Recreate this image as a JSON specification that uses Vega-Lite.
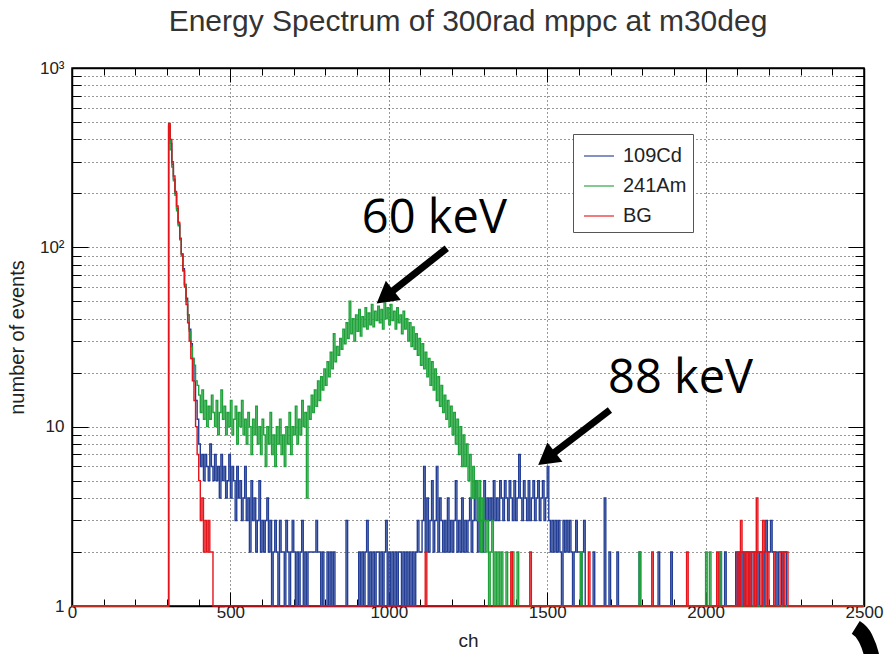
{
"$schema": "https://vega.github.io/schema/vega-lite/v6.json",
"width": 792, "height": 538,
"autosize": {"type": "none"},
"padding": {"left": 72, "top": 68, "right": 30, "bottom": 48},
"background": "white",
"config": {"view": {"stroke": "black", "strokeWidth": 1.5}, "font": "Liberation Sans"},
"title": {"text": "Energy Spectrum of 300rad mppc at m30deg", "fontSize": 30, "fontWeight": "normal", "color": "#333", "font": "Liberation Sans", "offset": 22, "anchor": "middle", "frame": "group"},
"datasets": {
"spec": [
{"ch":0,"109Cd":1,"241Am":1,"BG":1},
{"ch":305,"109Cd":470,"241Am":480,"BG":490},
{"ch":310,"109Cd":380,"241Am":350,"BG":400},
{"ch":315,"109Cd":290,"241Am":280,"BG":300},
{"ch":320,"109Cd":240,"241Am":235,"BG":250},
{"ch":325,"109Cd":200,"241Am":195,"BG":205},
{"ch":330,"109Cd":165,"241Am":160,"BG":170},
{"ch":335,"109Cd":135,"241Am":132,"BG":138},
{"ch":340,"109Cd":112,"241Am":110,"BG":112},
{"ch":345,"109Cd":92,"241Am":90,"BG":92},
{"ch":350,"109Cd":76,"241Am":74,"BG":74},
{"ch":355,"109Cd":62,"241Am":62,"BG":60},
{"ch":360,"109Cd":52,"241Am":50,"BG":48},
{"ch":365,"109Cd":42,"241Am":42,"BG":38},
{"ch":370,"109Cd":35,"241Am":34,"BG":30},
{"ch":375,"109Cd":29,"241Am":28,"BG":24},
{"ch":380,"109Cd":24,"241Am":24,"BG":18},
{"ch":385,"109Cd":18,"241Am":22,"BG":14},
{"ch":390,"109Cd":14,"241Am":18,"BG":10},
{"ch":395,"109Cd":11,"241Am":17,"BG":7},
{"ch":400,"109Cd":8,"241Am":15,"BG":5},
{"ch":405,"109Cd":6,"241Am":12,"BG":3},
{"ch":410,"109Cd":7,"241Am":16,"BG":4},
{"ch":415,"109Cd":5,"241Am":11,"BG":2},
{"ch":420,"109Cd":7,"241Am":14,"BG":3},
{"ch":425,"109Cd":6,"241Am":10,"BG":2},
{"ch":430,"109Cd":5,"241Am":13,"BG":3},
{"ch":435,"109Cd":8,"241Am":11,"BG":2},
{"ch":440,"109Cd":6,"241Am":15,"BG":2},
{"ch":445,"109Cd":5,"241Am":12,"BG":1},
{"ch":450,"109Cd":7,"241Am":10,"BG":1},
{"ch":455,"109Cd":5,"241Am":14,"BG":1},
{"ch":460,"109Cd":6,"241Am":9,"BG":1},
{"ch":465,"109Cd":4,"241Am":12,"BG":1},
{"ch":470,"109Cd":7,"241Am":16,"BG":1},
{"ch":475,"109Cd":5,"241Am":11,"BG":1},
{"ch":480,"109Cd":6,"241Am":13,"BG":1},
{"ch":485,"109Cd":4,"241Am":9,"BG":1},
{"ch":490,"109Cd":5,"241Am":12,"BG":1},
{"ch":495,"109Cd":7,"241Am":10,"BG":1},
{"ch":500,"109Cd":4,"241Am":14,"BG":1},
{"ch":505,"109Cd":6,"241Am":9,"BG":1},
{"ch":510,"109Cd":5,"241Am":11,"BG":1},
{"ch":515,"109Cd":3,"241Am":13,"BG":1},
{"ch":520,"109Cd":6,"241Am":8,"BG":1},
{"ch":525,"109Cd":4,"241Am":12,"BG":1},
{"ch":530,"109Cd":5,"241Am":10,"BG":1},
{"ch":535,"109Cd":3,"241Am":14,"BG":1},
{"ch":540,"109Cd":4,"241Am":9,"BG":1},
{"ch":545,"109Cd":6,"241Am":11,"BG":1},
{"ch":550,"109Cd":3,"241Am":8,"BG":1},
{"ch":555,"109Cd":4,"241Am":12,"BG":1},
{"ch":560,"109Cd":2,"241Am":10,"BG":1},
{"ch":565,"109Cd":5,"241Am":7,"BG":1},
{"ch":570,"109Cd":3,"241Am":11,"BG":1},
{"ch":575,"109Cd":4,"241Am":9,"BG":1},
{"ch":580,"109Cd":2,"241Am":13,"BG":1},
{"ch":585,"109Cd":3,"241Am":8,"BG":1},
{"ch":590,"109Cd":5,"241Am":10,"BG":1},
{"ch":595,"109Cd":2,"241Am":7,"BG":1},
{"ch":600,"109Cd":3,"241Am":11,"BG":1},
{"ch":605,"109Cd":2,"241Am":9,"BG":1},
{"ch":610,"109Cd":3,"241Am":6,"BG":1},
{"ch":615,"109Cd":4,"241Am":10,"BG":1},
{"ch":620,"109Cd":2,"241Am":8,"BG":1},
{"ch":625,"109Cd":3,"241Am":12,"BG":1},
{"ch":630,"109Cd":1,"241Am":7,"BG":1},
{"ch":635,"109Cd":2,"241Am":9,"BG":1},
{"ch":640,"109Cd":3,"241Am":6,"BG":1},
{"ch":645,"109Cd":2,"241Am":10,"BG":1},
{"ch":650,"109Cd":1,"241Am":8,"BG":1},
{"ch":655,"109Cd":3,"241Am":11,"BG":1},
{"ch":660,"109Cd":2,"241Am":7,"BG":1},
{"ch":665,"109Cd":2,"241Am":9,"BG":1},
{"ch":670,"109Cd":1,"241Am":6,"BG":1},
{"ch":675,"109Cd":3,"241Am":10,"BG":1},
{"ch":680,"109Cd":2,"241Am":8,"BG":1},
{"ch":685,"109Cd":1,"241Am":12,"BG":1},
{"ch":690,"109Cd":2,"241Am":7,"BG":1},
{"ch":695,"109Cd":3,"241Am":10,"BG":1},
{"ch":700,"109Cd":2,"241Am":9,"BG":1},
{"ch":705,"109Cd":1,"241Am":13,"BG":1},
{"ch":710,"109Cd":2,"241Am":8,"BG":1},
{"ch":715,"109Cd":1,"241Am":11,"BG":1},
{"ch":720,"109Cd":2,"241Am":9,"BG":1},
{"ch":725,"109Cd":3,"241Am":14,"BG":1},
{"ch":730,"109Cd":1,"241Am":10,"BG":1},
{"ch":735,"109Cd":2,"241Am":12,"BG":1},
{"ch":740,"109Cd":1,"241Am":4,"BG":1},
{"ch":745,"109Cd":2,"241Am":13,"BG":1},
{"ch":750,"109Cd":2,"241Am":11,"BG":1},
{"ch":755,"109Cd":2,"241Am":15,"BG":1},
{"ch":760,"109Cd":2,"241Am":12,"BG":1},
{"ch":765,"109Cd":2,"241Am":16,"BG":1},
{"ch":770,"109Cd":3,"241Am":13,"BG":1},
{"ch":775,"109Cd":2,"241Am":18,"BG":1},
{"ch":780,"109Cd":2,"241Am":14,"BG":1},
{"ch":785,"109Cd":1,"241Am":19,"BG":1},
{"ch":790,"109Cd":2,"241Am":16,"BG":1},
{"ch":795,"109Cd":1,"241Am":21,"BG":1},
{"ch":800,"109Cd":1,"241Am":17,"BG":1},
{"ch":805,"109Cd":2,"241Am":23,"BG":1},
{"ch":810,"109Cd":1,"241Am":19,"BG":1},
{"ch":815,"109Cd":2,"241Am":26,"BG":1},
{"ch":820,"109Cd":1,"241Am":21,"BG":1},
{"ch":825,"109Cd":2,"241Am":33,"BG":1},
{"ch":830,"109Cd":1,"241Am":23,"BG":1},
{"ch":835,"109Cd":1,"241Am":28,"BG":1},
{"ch":840,"109Cd":1,"241Am":25,"BG":1},
{"ch":845,"109Cd":1,"241Am":31,"BG":1},
{"ch":850,"109Cd":1,"241Am":27,"BG":1},
{"ch":855,"109Cd":1,"241Am":35,"BG":1},
{"ch":860,"109Cd":1,"241Am":29,"BG":1},
{"ch":865,"109Cd":3,"241Am":38,"BG":1},
{"ch":870,"109Cd":1,"241Am":31,"BG":1},
{"ch":875,"109Cd":1,"241Am":50,"BG":1},
{"ch":880,"109Cd":1,"241Am":33,"BG":1},
{"ch":885,"109Cd":1,"241Am":40,"BG":1},
{"ch":890,"109Cd":1,"241Am":30,"BG":1},
{"ch":895,"109Cd":1,"241Am":42,"BG":1},
{"ch":900,"109Cd":1,"241Am":34,"BG":1},
{"ch":905,"109Cd":2,"241Am":45,"BG":1},
{"ch":910,"109Cd":1,"241Am":32,"BG":1},
{"ch":915,"109Cd":2,"241Am":41,"BG":1},
{"ch":920,"109Cd":1,"241Am":36,"BG":1},
{"ch":925,"109Cd":2,"241Am":46,"BG":1},
{"ch":930,"109Cd":3,"241Am":35,"BG":1},
{"ch":935,"109Cd":1,"241Am":43,"BG":1},
{"ch":940,"109Cd":2,"241Am":37,"BG":1},
{"ch":945,"109Cd":1,"241Am":48,"BG":1},
{"ch":950,"109Cd":2,"241Am":36,"BG":1},
{"ch":955,"109Cd":1,"241Am":44,"BG":1},
{"ch":960,"109Cd":2,"241Am":39,"BG":1},
{"ch":965,"109Cd":2,"241Am":47,"BG":1},
{"ch":970,"109Cd":1,"241Am":38,"BG":1},
{"ch":975,"109Cd":2,"241Am":45,"BG":1},
{"ch":980,"109Cd":1,"241Am":35,"BG":1},
{"ch":985,"109Cd":2,"241Am":49,"BG":1},
{"ch":990,"109Cd":3,"241Am":40,"BG":1},
{"ch":995,"109Cd":1,"241Am":46,"BG":1},
{"ch":1000,"109Cd":2,"241Am":37,"BG":1},
{"ch":1005,"109Cd":1,"241Am":48,"BG":1},
{"ch":1010,"109Cd":2,"241Am":39,"BG":1},
{"ch":1015,"109Cd":1,"241Am":44,"BG":1},
{"ch":1020,"109Cd":2,"241Am":35,"BG":1},
{"ch":1025,"109Cd":1,"241Am":46,"BG":1},
{"ch":1030,"109Cd":2,"241Am":38,"BG":1},
{"ch":1035,"109Cd":2,"241Am":42,"BG":1},
{"ch":1040,"109Cd":1,"241Am":33,"BG":1},
{"ch":1045,"109Cd":2,"241Am":44,"BG":1},
{"ch":1050,"109Cd":1,"241Am":35,"BG":1},
{"ch":1055,"109Cd":2,"241Am":40,"BG":1},
{"ch":1060,"109Cd":1,"241Am":30,"BG":1},
{"ch":1065,"109Cd":2,"241Am":38,"BG":1},
{"ch":1070,"109Cd":1,"241Am":28,"BG":1},
{"ch":1075,"109Cd":2,"241Am":36,"BG":1},
{"ch":1080,"109Cd":1,"241Am":27,"BG":1},
{"ch":1085,"109Cd":2,"241Am":33,"BG":1},
{"ch":1090,"109Cd":3,"241Am":25,"BG":1},
{"ch":1095,"109Cd":2,"241Am":31,"BG":1},
{"ch":1100,"109Cd":2,"241Am":22,"BG":1},
{"ch":1105,"109Cd":3,"241Am":29,"BG":1},
{"ch":1110,"109Cd":6,"241Am":21,"BG":1},
{"ch":1115,"109Cd":2,"241Am":26,"BG":2},
{"ch":1120,"109Cd":4,"241Am":19,"BG":1},
{"ch":1125,"109Cd":2,"241Am":24,"BG":1},
{"ch":1130,"109Cd":3,"241Am":17,"BG":1},
{"ch":1135,"109Cd":5,"241Am":23,"BG":1},
{"ch":1140,"109Cd":2,"241Am":16,"BG":1},
{"ch":1145,"109Cd":3,"241Am":21,"BG":1},
{"ch":1150,"109Cd":6,"241Am":14,"BG":1},
{"ch":1155,"109Cd":2,"241Am":19,"BG":1},
{"ch":1160,"109Cd":4,"241Am":13,"BG":1},
{"ch":1165,"109Cd":3,"241Am":17,"BG":1},
{"ch":1170,"109Cd":2,"241Am":12,"BG":1},
{"ch":1175,"109Cd":3,"241Am":15,"BG":1},
{"ch":1180,"109Cd":2,"241Am":11,"BG":1},
{"ch":1185,"109Cd":4,"241Am":14,"BG":1},
{"ch":1190,"109Cd":2,"241Am":10,"BG":1},
{"ch":1195,"109Cd":3,"241Am":13,"BG":1},
{"ch":1200,"109Cd":2,"241Am":9,"BG":1},
{"ch":1205,"109Cd":3,"241Am":12,"BG":1},
{"ch":1210,"109Cd":5,"241Am":8,"BG":1},
{"ch":1215,"109Cd":2,"241Am":11,"BG":1},
{"ch":1220,"109Cd":3,"241Am":7,"BG":1},
{"ch":1225,"109Cd":2,"241Am":10,"BG":1},
{"ch":1230,"109Cd":4,"241Am":6,"BG":1},
{"ch":1235,"109Cd":2,"241Am":9,"BG":1},
{"ch":1240,"109Cd":3,"241Am":6,"BG":1},
{"ch":1245,"109Cd":2,"241Am":8,"BG":1},
{"ch":1250,"109Cd":3,"241Am":5,"BG":1},
{"ch":1255,"109Cd":4,"241Am":7,"BG":1},
{"ch":1260,"109Cd":2,"241Am":4,"BG":1},
{"ch":1265,"109Cd":3,"241Am":6,"BG":1},
{"ch":1270,"109Cd":5,"241Am":4,"BG":1},
{"ch":1275,"109Cd":3,"241Am":5,"BG":1},
{"ch":1280,"109Cd":2,"241Am":3,"BG":1},
{"ch":1285,"109Cd":4,"241Am":5,"BG":1},
{"ch":1290,"109Cd":3,"241Am":2,"BG":1},
{"ch":1295,"109Cd":2,"241Am":4,"BG":1},
{"ch":1300,"109Cd":5,"241Am":3,"BG":1},
{"ch":1305,"109Cd":3,"241Am":2,"BG":1},
{"ch":1310,"109Cd":4,"241Am":3,"BG":1},
{"ch":1315,"109Cd":3,"241Am":1,"BG":1},
{"ch":1320,"109Cd":4,"241Am":2,"BG":1},
{"ch":1325,"109Cd":3,"241Am":3,"BG":1},
{"ch":1330,"109Cd":5,"241Am":1,"BG":1},
{"ch":1335,"109Cd":3,"241Am":2,"BG":1},
{"ch":1340,"109Cd":4,"241Am":1,"BG":1},
{"ch":1345,"109Cd":3,"241Am":2,"BG":1},
{"ch":1350,"109Cd":5,"241Am":1,"BG":1},
{"ch":1355,"109Cd":4,"241Am":2,"BG":1},
{"ch":1360,"109Cd":3,"241Am":1,"BG":1},
{"ch":1365,"109Cd":5,"241Am":1,"BG":1},
{"ch":1370,"109Cd":4,"241Am":2,"BG":1},
{"ch":1375,"109Cd":3,"241Am":1,"BG":1},
{"ch":1380,"109Cd":5,"241Am":1,"BG":1},
{"ch":1385,"109Cd":4,"241Am":1,"BG":2},
{"ch":1390,"109Cd":3,"241Am":2,"BG":1},
{"ch":1395,"109Cd":5,"241Am":1,"BG":1},
{"ch":1400,"109Cd":3,"241Am":1,"BG":1},
{"ch":1405,"109Cd":4,"241Am":2,"BG":1},
{"ch":1410,"109Cd":7,"241Am":1,"BG":1},
{"ch":1415,"109Cd":4,"241Am":1,"BG":1},
{"ch":1420,"109Cd":3,"241Am":1,"BG":1},
{"ch":1425,"109Cd":5,"241Am":1,"BG":1},
{"ch":1430,"109Cd":4,"241Am":1,"BG":1},
{"ch":1435,"109Cd":3,"241Am":1,"BG":1},
{"ch":1440,"109Cd":5,"241Am":1,"BG":1},
{"ch":1445,"109Cd":3,"241Am":1,"BG":2},
{"ch":1450,"109Cd":4,"241Am":1,"BG":1},
{"ch":1455,"109Cd":5,"241Am":1,"BG":1},
{"ch":1460,"109Cd":3,"241Am":1,"BG":1},
{"ch":1465,"109Cd":4,"241Am":1,"BG":1},
{"ch":1470,"109Cd":5,"241Am":1,"BG":1},
{"ch":1475,"109Cd":3,"241Am":1,"BG":1},
{"ch":1480,"109Cd":4,"241Am":1,"BG":1},
{"ch":1485,"109Cd":5,"241Am":1,"BG":1},
{"ch":1490,"109Cd":3,"241Am":1,"BG":1},
{"ch":1495,"109Cd":4,"241Am":1,"BG":1},
{"ch":1500,"109Cd":6,"241Am":1,"BG":1},
{"ch":1505,"109Cd":3,"241Am":1,"BG":1},
{"ch":1510,"109Cd":2,"241Am":1,"BG":1},
{"ch":1515,"109Cd":3,"241Am":1,"BG":1},
{"ch":1520,"109Cd":2,"241Am":1,"BG":1},
{"ch":1525,"109Cd":3,"241Am":1,"BG":1},
{"ch":1530,"109Cd":2,"241Am":1,"BG":1},
{"ch":1535,"109Cd":3,"241Am":1,"BG":1},
{"ch":1540,"109Cd":2,"241Am":1,"BG":1},
{"ch":1545,"109Cd":1,"241Am":1,"BG":1},
{"ch":1550,"109Cd":3,"241Am":1,"BG":1},
{"ch":1555,"109Cd":2,"241Am":1,"BG":1},
{"ch":1560,"109Cd":3,"241Am":1,"BG":1},
{"ch":1565,"109Cd":2,"241Am":1,"BG":1},
{"ch":1570,"109Cd":3,"241Am":1,"BG":1},
{"ch":1575,"109Cd":2,"241Am":1,"BG":1},
{"ch":1580,"109Cd":1,"241Am":1,"BG":1},
{"ch":1585,"109Cd":2,"241Am":1,"BG":1},
{"ch":1590,"109Cd":3,"241Am":1,"BG":1},
{"ch":1595,"109Cd":2,"241Am":1,"BG":1},
{"ch":1600,"109Cd":2,"241Am":1,"BG":1},
{"ch":1605,"109Cd":1,"241Am":2,"BG":1},
{"ch":1610,"109Cd":2,"241Am":1,"BG":1},
{"ch":1615,"109Cd":3,"241Am":1,"BG":1},
{"ch":1620,"109Cd":1,"241Am":1,"BG":1},
{"ch":1630,"109Cd":1,"241Am":1,"BG":2},
{"ch":1635,"109Cd":1,"241Am":1,"BG":1},
{"ch":1645,"109Cd":2,"241Am":1,"BG":1},
{"ch":1650,"109Cd":1,"241Am":1,"BG":1},
{"ch":1680,"109Cd":4,"241Am":1,"BG":1},
{"ch":1685,"109Cd":1,"241Am":1,"BG":1},
{"ch":1695,"109Cd":2,"241Am":1,"BG":1},
{"ch":1700,"109Cd":1,"241Am":1,"BG":1},
{"ch":1720,"109Cd":2,"241Am":1,"BG":1},
{"ch":1725,"109Cd":1,"241Am":1,"BG":1},
{"ch":1790,"109Cd":2,"241Am":2,"BG":1},
{"ch":1795,"109Cd":1,"241Am":1,"BG":1},
{"ch":1830,"109Cd":1,"241Am":1,"BG":2},
{"ch":1835,"109Cd":1,"241Am":1,"BG":1},
{"ch":1850,"109Cd":2,"241Am":1,"BG":1},
{"ch":1855,"109Cd":1,"241Am":1,"BG":1},
{"ch":1890,"109Cd":2,"241Am":1,"BG":1},
{"ch":1895,"109Cd":1,"241Am":1,"BG":1},
{"ch":1940,"109Cd":1,"241Am":1,"BG":2},
{"ch":1945,"109Cd":1,"241Am":1,"BG":1},
{"ch":2000,"109Cd":1,"241Am":2,"BG":1},
{"ch":2005,"109Cd":1,"241Am":1,"BG":1},
{"ch":2012,"109Cd":1,"241Am":2,"BG":1},
{"ch":2017,"109Cd":1,"241Am":1,"BG":1},
{"ch":2035,"109Cd":1,"241Am":1,"BG":2},
{"ch":2040,"109Cd":1,"241Am":1,"BG":1},
{"ch":2045,"109Cd":2,"241Am":2,"BG":1},
{"ch":2050,"109Cd":1,"241Am":1,"BG":1},
{"ch":2060,"109Cd":2,"241Am":1,"BG":1},
{"ch":2065,"109Cd":1,"241Am":1,"BG":1},
{"ch":2095,"109Cd":2,"241Am":1,"BG":1},
{"ch":2100,"109Cd":1,"241Am":1,"BG":2},
{"ch":2105,"109Cd":2,"241Am":1,"BG":1},
{"ch":2110,"109Cd":1,"241Am":1,"BG":3},
{"ch":2115,"109Cd":2,"241Am":1,"BG":2},
{"ch":2120,"109Cd":1,"241Am":1,"BG":1},
{"ch":2125,"109Cd":2,"241Am":1,"BG":2},
{"ch":2130,"109Cd":2,"241Am":1,"BG":1},
{"ch":2135,"109Cd":1,"241Am":1,"BG":2},
{"ch":2140,"109Cd":2,"241Am":1,"BG":1},
{"ch":2145,"109Cd":2,"241Am":1,"BG":2},
{"ch":2150,"109Cd":1,"241Am":1,"BG":2},
{"ch":2155,"109Cd":2,"241Am":1,"BG":1},
{"ch":2160,"109Cd":2,"241Am":1,"BG":4},
{"ch":2165,"109Cd":1,"241Am":1,"BG":2},
{"ch":2170,"109Cd":2,"241Am":1,"BG":2},
{"ch":2175,"109Cd":2,"241Am":1,"BG":1},
{"ch":2180,"109Cd":1,"241Am":1,"BG":3},
{"ch":2185,"109Cd":2,"241Am":1,"BG":2},
{"ch":2190,"109Cd":3,"241Am":1,"BG":1},
{"ch":2195,"109Cd":2,"241Am":1,"BG":2},
{"ch":2200,"109Cd":2,"241Am":1,"BG":1},
{"ch":2205,"109Cd":3,"241Am":1,"BG":1},
{"ch":2210,"109Cd":2,"241Am":1,"BG":1},
{"ch":2215,"109Cd":2,"241Am":1,"BG":2},
{"ch":2220,"109Cd":2,"241Am":1,"BG":1},
{"ch":2225,"109Cd":1,"241Am":1,"BG":1},
{"ch":2230,"109Cd":2,"241Am":1,"BG":1},
{"ch":2235,"109Cd":2,"241Am":1,"BG":2},
{"ch":2240,"109Cd":1,"241Am":1,"BG":2},
{"ch":2245,"109Cd":2,"241Am":1,"BG":1},
{"ch":2250,"109Cd":2,"241Am":1,"BG":2},
{"ch":2255,"109Cd":1,"241Am":1,"BG":2},
{"ch":2260,"109Cd":1,"241Am":1,"BG":1},
{"ch":2500,"109Cd":1,"241Am":1,"BG":1}
],
"notes": [{"t":"60 keV","x":915,"y":120},{"t":"88 keV","x":1692,"y":15.4}],
"arrows": [{"x":1183,"y":98.8,"x2":988,"y2":52.9},{"x":1698,"y":12.4,"x2":1498,"y2":6.64}],
"heads": [{"x":988,"y":52.9},{"x":1498,"y":6.64}],
"blob": [{"x":2474,"y":0.76},{"x":2504,"y":0.664},{"x":2523,"y":0.54},{"x":2530,"y":0.47}]
},
"resolve": {"axis": {"x": "independent", "y": "independent"}},
"layer": [
{
"data": {"name": "spec"},
"transform": [{"fold": ["109Cd","241Am","BG"], "as": ["s","n"]}, {"filter": "datum.s === '109Cd'"}],
"mark": {"type": "line", "interpolate": "step-after", "strokeWidth": 1.4},
"encoding": {
"x": {"field": "ch", "type": "quantitative", "scale": {"domain": [0,2500], "nice": false, "zero": false},
 "axis": {"orient": "bottom", "title": "ch", "titleFontSize": 19, "titleFontWeight": "normal", "titleColor": "#222", "titlePadding": 4,
  "values": [0,100,200,300,400,500,600,700,800,900,1000,1100,1200,1300,1400,1500,1600,1700,1800,1900,2000,2100,2200,2300,2400,2500],
  "labelExpr": "datum.value % 500 === 0 ? format(datum.value, 'd') : ''", "labelFontSize": 17, "labelColor": "#222", "labelPadding": 12, "labelOverlap": false, "labelFlush": false,
  "tickSize": {"condition": {"test": "datum.value % 500 === 0", "value": -14}, "value": -7}, "tickColor": "black",
  "grid": true, "gridDash": [1,3], "gridColor": "black", "gridWidth": 1,
  "gridOpacity": {"condition": {"test": "datum.value % 500 === 0 && datum.value > 0 && datum.value < 2500", "value": 0.8}, "value": 0},
  "domainColor": "black", "domainWidth": 1.5}},
"y": {"field": "n", "type": "quantitative", "scale": {"type": "log", "domain": [1,1000], "nice": false},
 "axis": {"orient": "left", "title": "number of events", "titleFontSize": 20, "titleFontWeight": "normal", "titleColor": "#222", "titlePadding": 12,
  "values": [1,2,3,4,5,6,7,8,9,10,20,30,40,50,60,70,80,90,100,200,300,400,500,600,700,800,900,1000],
  "labelExpr": "datum.value == 1000 ? '10³' : datum.value == 100 ? '10²' : datum.value == 10 ? '10' : datum.value == 1 ? '1' : ''", "labelFontSize": 17, "labelColor": "#222", "labelPadding": 24, "labelOverlap": false, "labelFlush": false,
  "tickSize": {"condition": {"test": "datum.value == 1 || datum.value == 10 || datum.value == 100 || datum.value == 1000", "value": -16}, "value": -9}, "tickColor": "black",
  "grid": true, "gridDash": [1,3], "gridColor": "black", "gridWidth": 1, "gridOpacity": 0.8,
  "domainColor": "black", "domainWidth": 1.5}},
"color": {"field": "s", "type": "nominal", "scale": {"domain": ["109Cd","241Am","BG"], "range": ["#233e94","#1fa23a","#e3141b"]},
 "legend": {"orient": "none", "legendX": 501, "legendY": 66, "title": null, "symbolType": "stroke", "symbolStrokeWidth": 1.5, "symbolSize": 900, "symbolOpacity": 0.75, "symbolOffset": 4,
  "labelFontSize": 20, "labelFont": "Liberation Sans", "labelColor": "#222", "labelOffset": 8, "strokeColor": "#555", "fillColor": "white", "padding": 6, "rowPadding": 4}}
}
},
{
"data": {"name": "spec"},
"transform": [{"fold": ["109Cd","241Am","BG"], "as": ["s","n"]}, {"filter": "datum.s === '241Am'"}],
"mark": {"type": "line", "interpolate": "step-after", "strokeWidth": 1.4},
"encoding": {
"x": {"field": "ch", "type": "quantitative", "scale": {"domain": [0,2500], "nice": false, "zero": false}, "axis": null},
"y": {"field": "n", "type": "quantitative", "scale": {"type": "log", "domain": [1,1000], "nice": false}, "axis": null},
"color": {"field": "s", "type": "nominal"}
}
},
{
"data": {"name": "spec"},
"transform": [{"fold": ["109Cd","241Am","BG"], "as": ["s","n"]}, {"filter": "datum.s === 'BG'"}],
"mark": {"type": "line", "interpolate": "step-after", "strokeWidth": 1.4},
"encoding": {
"x": {"field": "ch", "type": "quantitative", "scale": {"domain": [0,2500], "nice": false, "zero": false}, "axis": null},
"y": {"field": "n", "type": "quantitative", "scale": {"type": "log", "domain": [1,1000], "nice": false}, "axis": null},
"color": {"field": "s", "type": "nominal"}
}
},
{
"data": {"name": "notes"},
"mark": {"type": "text", "align": "left", "baseline": "alphabetic", "font": "Open Sans", "fontSize": 47, "color": "black"},
"encoding": {
"x": {"field": "x", "type": "quantitative", "scale": {"domain": [0,2500], "nice": false, "zero": false},
 "axis": {"orient": "top", "title": null, "labels": false, "grid": false, "domainColor": "black", "domainWidth": 1.5, "tickColor": "black",
  "values": [0,100,200,300,400,500,600,700,800,900,1000,1100,1200,1300,1400,1500,1600,1700,1800,1900,2000,2100,2200,2300,2400,2500],
  "tickSize": {"condition": {"test": "datum.value % 500 === 0", "value": -14}, "value": -7}}},
"y": {"field": "y", "type": "quantitative", "scale": {"type": "log", "domain": [1,1000], "nice": false},
 "axis": {"orient": "right", "title": null, "labels": false, "grid": false, "domainColor": "black", "domainWidth": 1.5, "tickColor": "black",
  "values": [1,2,3,4,5,6,7,8,9,10,20,30,40,50,60,70,80,90,100,200,300,400,500,600,700,800,900,1000],
  "tickSize": {"condition": {"test": "datum.value == 1 || datum.value == 10 || datum.value == 100 || datum.value == 1000", "value": -16}, "value": -9}}},
"text": {"field": "t", "type": "nominal"}
}
},
{
"data": {"name": "arrows"},
"mark": {"type": "rule", "color": "black", "strokeWidth": 7, "strokeCap": "butt"},
"encoding": {
"x": {"field": "x", "type": "quantitative", "scale": {"domain": [0,2500], "nice": false, "zero": false}, "axis": null},
"y": {"field": "y", "type": "quantitative", "scale": {"type": "log", "domain": [1,1000], "nice": false}, "axis": null},
"x2": {"field": "x2"},
"y2": {"field": "y2"}
}
},
{
"data": {"name": "heads"},
"mark": {"type": "point", "shape": "triangle-up", "filled": true, "color": "black", "opacity": 1, "size": 600, "angle": 232},
"encoding": {
"x": {"field": "x", "type": "quantitative", "scale": {"domain": [0,2500], "nice": false, "zero": false}, "axis": null},
"y": {"field": "y", "type": "quantitative", "scale": {"type": "log", "domain": [1,1000], "nice": false}, "axis": null}
}
},
{
"data": {"name": "blob"},
"mark": {"type": "line", "color": "black", "strokeWidth": 15, "strokeCap": "butt", "interpolate": "monotone", "clip": false},
"encoding": {
"x": {"field": "x", "type": "quantitative", "scale": {"domain": [0,2500], "nice": false, "zero": false}, "axis": null},
"y": {"field": "y", "type": "quantitative", "scale": {"type": "log", "domain": [1,1000], "nice": false}, "axis": null}
}
}
]
}
